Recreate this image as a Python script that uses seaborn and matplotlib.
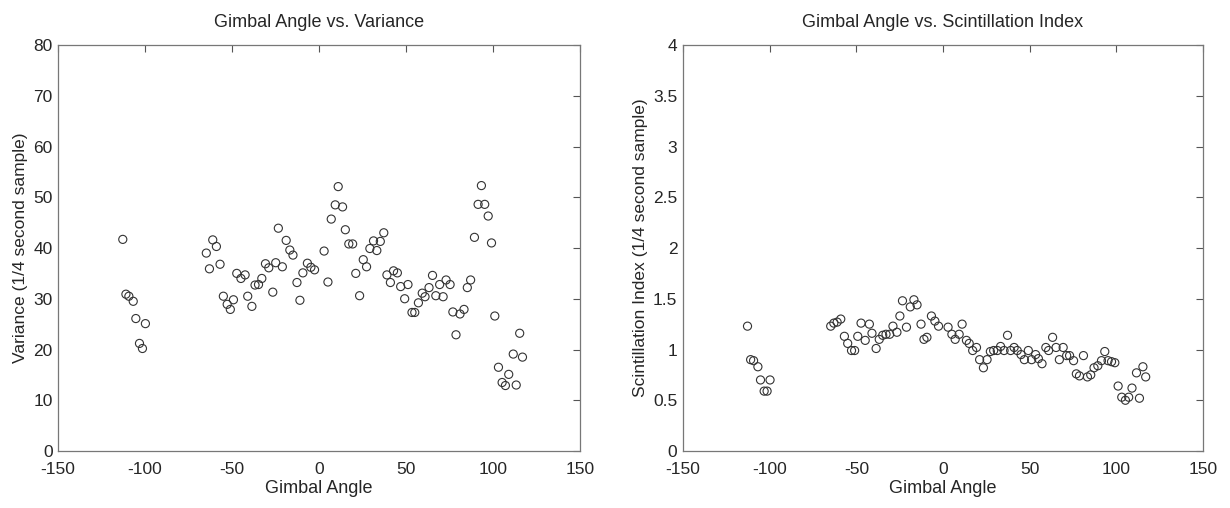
import matplotlib
matplotlib.use("Agg")
import matplotlib.pyplot as plt
import seaborn as sns
import pandas as pd

gimbal_angle = [
    -112.8, -111.0, -109.3, -106.8, -105.3, -103.2, -101.5, -99.8,
    -64.8, -63.0, -61.1, -59.0, -56.9, -55.0, -52.8, -51.0, -49.2, -47.3,
    -44.9, -42.5, -41.0, -38.6, -36.8, -34.8, -32.9, -30.8, -28.9, -26.6,
    -24.9, -23.4, -21.1, -18.9, -16.8, -15.0, -12.7, -11.0, -9.3, -6.7, -4.7, -2.6,
    2.9, 5.1, 7.0, 9.3, 11.0, 13.5, 15.1, 17.1, 19.3, 21.1, 23.3, 25.4, 27.3, 29.2,
    31.3, 33.2, 35.2, 37.2, 39.0, 41.0, 42.8, 45.0, 46.9, 49.2, 51.1, 53.4, 55.0, 57.1,
    59.3, 60.9, 63.2, 65.2, 67.1, 69.3, 71.3, 73.0, 75.3, 76.9, 78.7, 81.0, 83.3,
    85.2, 87.1, 89.3, 91.4, 93.3, 95.2, 97.2, 99.1, 101.0, 103.1, 105.2, 107.1, 109.0,
    111.6, 113.3, 115.3, 116.9,
]

variance = [
    41.7, 30.9, 30.5, 29.5, 26.1, 21.2, 20.2, 25.1,
    39.0, 35.9, 41.6, 40.3, 36.8, 30.5, 28.9, 27.9, 29.8, 35.0,
    34.0, 34.7, 30.5, 28.5, 32.7, 32.8, 34.0, 36.9, 36.1, 31.3,
    37.1, 43.9, 36.3, 41.5, 39.6, 38.6, 33.2, 29.7, 35.1, 37.0, 36.2, 35.7,
    39.4, 33.3, 45.7, 48.5, 52.1, 48.1, 43.6, 40.8, 40.8, 35.0, 30.6, 37.7, 36.3, 39.9,
    41.4, 39.5, 41.3, 43.0, 34.7, 33.2, 35.5, 35.1, 32.4, 30.0, 32.8, 27.3, 27.3, 29.2,
    31.1, 30.4, 32.2, 34.6, 30.6, 32.8, 30.4, 33.7, 32.8, 27.4, 22.9, 27.0, 27.9,
    32.2, 33.7, 42.1, 48.6, 52.3, 48.6, 46.3, 41.0, 26.6, 16.5, 13.5, 12.9, 15.1,
    19.1, 13.0, 23.2, 18.5,
]

scintillation = [
    1.23, 0.90, 0.89, 0.83, 0.70, 0.59, 0.59, 0.70,
    1.23, 1.26, 1.27, 1.30, 1.13, 1.06, 0.99, 0.99, 1.13, 1.26,
    1.09, 1.25, 1.16, 1.01, 1.10, 1.14, 1.15, 1.15, 1.23, 1.17,
    1.33, 1.48, 1.22, 1.42, 1.49, 1.44, 1.25, 1.10, 1.12, 1.33, 1.28, 1.23,
    1.22, 1.15, 1.10, 1.15, 1.25, 1.09, 1.06, 0.99, 1.02, 0.90, 0.82, 0.90, 0.98, 0.99,
    0.99, 1.03, 0.99, 1.14, 0.99, 1.02, 0.99, 0.95, 0.90, 0.99, 0.90, 0.95, 0.91, 0.86,
    1.02, 0.99, 1.12, 1.02, 0.90, 1.02, 0.94, 0.94, 0.89, 0.76, 0.74, 0.94, 0.73,
    0.75, 0.82, 0.84, 0.89, 0.98, 0.89, 0.88, 0.87, 0.64, 0.53, 0.50, 0.53, 0.62,
    0.77, 0.52, 0.83, 0.73,
]

x_ticks = [-150, -100, -50, 0, 50, 100, 150]
var_ticks = [0, 10, 20, 30, 40, 50, 60, 70, 80]
sci_ticks = [0, 0.5, 1, 1.5, 2, 2.5, 3, 3.5, 4]
sci_tick_labels = ["0", "0.5", "1", "1.5", "2", "2.5", "3", "3.5", "4"]

titles = ["Gimbal Angle vs. Variance", "Gimbal Angle vs. Scintillation Index"]
ylabels = ["Variance (1/4 second sample)", "Scintillation Index (1/4 second sample)"]
xlabel = "Gimbal Angle"

df = pd.DataFrame({"angle": gimbal_angle, "variance": variance, "scint": scintillation})

sns.set_style("white")
plt.rcParams["font.family"] = ["Liberation Sans", "DejaVu Sans"]
plt.rcParams["axes.unicode_minus"] = False
plt.rcParams["xtick.direction"] = "in"
plt.rcParams["ytick.direction"] = "in"

fig = plt.figure(figsize=(12.3, 5.08), dpi=100)
ax1 = fig.add_axes([0.0472, 0.1122, 0.4244, 0.7992])
ax2 = fig.add_axes([0.5553, 0.1122, 0.4228, 0.7992])

for ax, col, yt, title, ylab in [
    (ax1, "variance", var_ticks, titles[0], ylabels[0]),
    (ax2, "scint", sci_ticks, titles[1], ylabels[1]),
]:
    sns.scatterplot(data=df, x="angle", y=col, ax=ax, marker="o", s=34,
                    facecolors="none", edgecolor="#333333", linewidth=0.8)
    ax.set_xlim(x_ticks[0], x_ticks[-1])
    ax.set_ylim(yt[0], yt[-1])
    ax.set_xticks(x_ticks)
    ax.set_yticks(yt)
    ax.tick_params(top=True, right=True, length=5, width=0.8, color="#555555",
                   labelsize=12.5)
    ax.tick_params(axis="x", pad=8)
    ax.tick_params(axis="y", pad=4)
    for s in ax.spines.values():
        s.set_color("#777777")
        s.set_linewidth(0.9)
    ax.set_title(title, fontsize=13, pad=13)
    ax.set_xlabel(xlabel, fontsize=13, labelpad=2)
    ax.set_ylabel(ylab, fontsize=12.5, labelpad=4)

ax2.set_yticklabels(sci_tick_labels)

fig.savefig("out.png", dpi=100)
